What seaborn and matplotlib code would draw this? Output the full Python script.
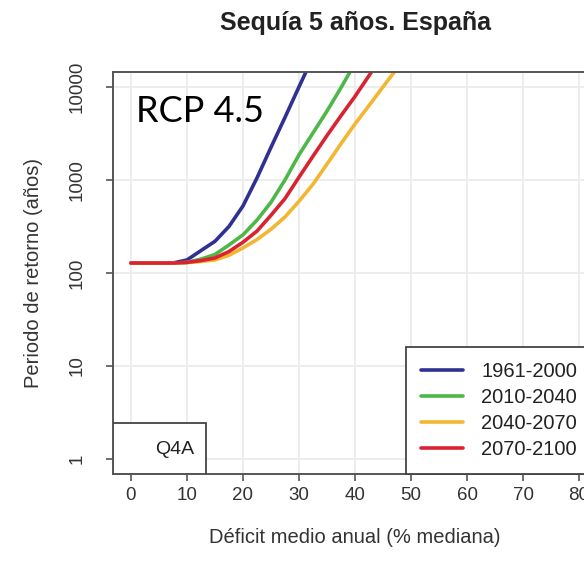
import matplotlib
matplotlib.use("Agg")
import matplotlib.pyplot as plt
import seaborn as sns
import pandas as pd
from matplotlib.patches import Rectangle

# Curvas de periodo de retorno
periods = ['1961-2000', '2010-2040', '2040-2070', '2070-2100']
colors = ['#2E3192', '#4DB848', '#F2B632', '#D92330']

x_1961 = [0, 5, 7.5, 10, 12.5, 15, 17.5, 20, 22.5, 25, 27.5, 30, 32.5]
y_1961 = [128, 128, 128, 138, 174, 219, 316, 525, 1050, 2240, 4700, 10000, 21000]

x_2010 = [0, 5, 7.5, 10, 12.5, 15, 17.5, 20, 22.5, 25, 27.5, 30, 32.5, 35, 37.5, 40]
y_2010 = [128, 128, 128, 130, 141, 158, 200, 257, 370, 575, 1000, 1860, 3200, 5500, 9800, 18000]

x_2040 = [0, 5, 7.5, 10, 12.5, 15, 17.5, 20, 22.5, 25, 27.5, 30, 32.5, 35, 37.5, 40, 42.5,
          45, 47.5, 50]
y_2040 = [128, 128, 128, 129, 133, 138, 155, 186, 229, 295, 400, 590, 900, 1480, 2450, 4000,
          6300, 10000, 15800, 28000]

x_2070 = [0, 5, 7.5, 10, 12.5, 15, 17.5, 20, 22.5, 25, 27.5, 30, 32.5, 35, 37.5, 40, 42.5, 45]
y_2070 = [128, 128, 128, 130, 136, 145, 170, 214, 282, 417, 630, 1070, 1800, 3000, 4900, 7900,
          13200, 22400]

x_ticks = [0, 10, 20, 30, 40, 50, 60, 70, 80]
y_ticks = [1, 10, 100, 1000, 10000]

frames = []
for name, xs, ys in zip(periods,
                        [x_1961, x_2010, x_2040, x_2070],
                        [y_1961, y_2010, y_2040, y_2070]):
    frames.append(pd.DataFrame({'deficit': xs, 'retorno': ys, 'periodo': name}))
df = pd.concat(frames, ignore_index=True)

sns.set_theme(style="white")
plt.rcParams['font.family'] = ['Liberation Sans', 'DejaVu Sans']

fig = plt.figure(figsize=(5.84, 5.77), dpi=100)
ax = fig.add_axes([113 / 584, 1 - 474 / 577, 484 / 584, 402 / 577])

# orden de dibujo: azul, verde, naranja, rojo (el rojo queda encima)
sns.lineplot(data=df, x='deficit', y='retorno', hue='periodo',
             hue_order=periods, palette=colors, linewidth=2.6,
             sort=True, estimator=None, ax=ax, legend=False)

ax.set_yscale('log')
ax.set_xlim(-3.2, 83.2)
ax.set_ylim(10 ** -0.16, 10 ** 4.16)
ax.set_xticks(x_ticks)
ax.set_xticklabels([str(v) for v in x_ticks])
ax.set_yticks(y_ticks)
ax.set_yticklabels([str(v) for v in y_ticks], rotation=90, va='center')
ax.minorticks_off()

ax.grid(True, color='#ececec', linewidth=1.3)
ax.set_axisbelow(True)
for s in ax.spines.values():
    s.set_color('#555555')
    s.set_linewidth(1.4)
ax.tick_params(axis='both', which='major', direction='out', length=5,
               width=1.2, color='#555555', labelcolor='#333333', labelsize=13.5)
ax.tick_params(axis='x', pad=4, bottom=True)
ax.tick_params(axis='y', pad=15, left=True)

ax.set_xlabel('Déficit medio anual (% mediana)', fontsize=14.5, color='#333333')
ax.set_ylabel('Periodo de retorno (años)', fontsize=14.5, color='#333333')
ax.xaxis.set_label_coords(0.5, -0.135)
ax.yaxis.set_label_coords(-0.145, 0.5)
ax.set_title('Sequía 5 años. España', fontsize=18, fontweight='bold',
             color='#222222', pad=30)

# leyenda de periodos
handles = [plt.Line2D([], [], color=c, linewidth=2.6) for c in colors]
leg = ax.legend(handles, periods, loc='upper left',
                bbox_to_anchor=(0.605, 0.316), borderaxespad=0,
                fontsize=14.5, frameon=True, fancybox=False, framealpha=1,
                edgecolor='#444444', borderpad=0.75, labelspacing=0.35,
                handlelength=2.1, handletextpad=0.9)
leg.get_frame().set_linewidth(1.3)
for t in leg.get_texts():
    t.set_color('#222222')

# recuadro Q4A
ax.add_patch(Rectangle((0, 0), 0.192, 0.127, transform=ax.transAxes,
                       facecolor='white', edgecolor='#444444', linewidth=1.3,
                       zorder=5))
ax.text(0.128, 0.062, 'Q4A', transform=ax.transAxes, ha='center', va='center',
        fontsize=14, color='#222222', zorder=6)

ax.text(0.0475, 0.876, 'RCP 4.5', transform=ax.transAxes, ha='left',
        va='baseline', fontsize=26, family='Lato', color='black', zorder=6)

fig.savefig('out.png', dpi=100)
